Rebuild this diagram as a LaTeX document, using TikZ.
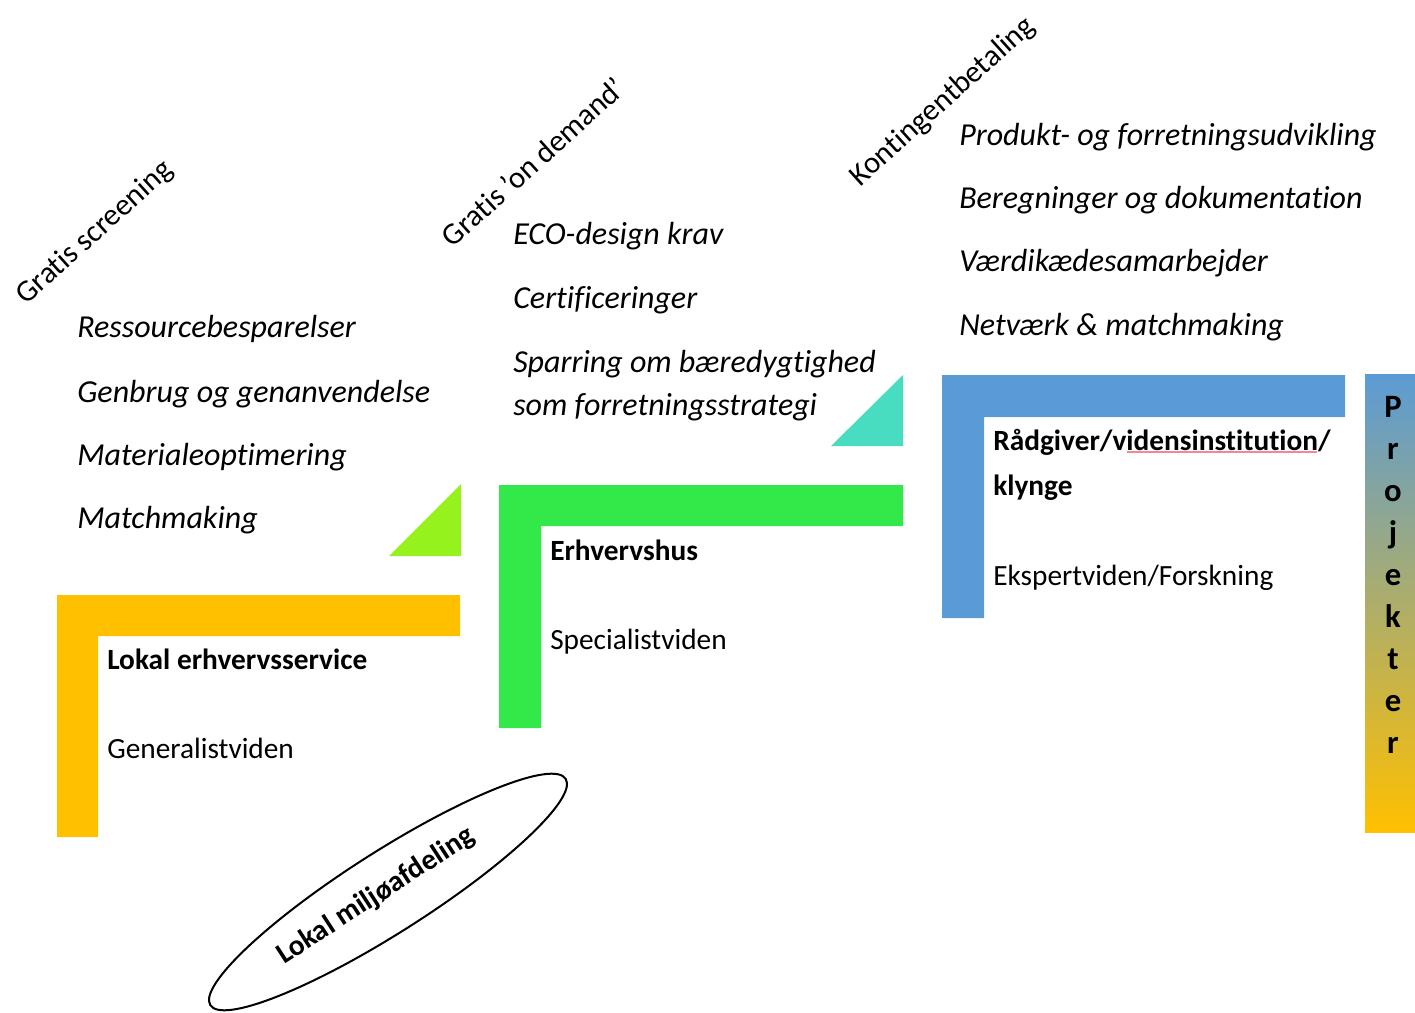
\documentclass[tikz,border=0pt]{standalone}
\usepackage{fontspec}
\setmainfont{Carlito}[Ligatures=NoCommon]
\usetikzlibrary{shapes.geometric}
\definecolor{cOrange}{HTML}{FFC000}
\definecolor{cGreen}{HTML}{33E94A}
\definecolor{cBlue}{HTML}{5B9BD5}
\definecolor{cLime}{HTML}{95F21D}
\definecolor{cTeal}{HTML}{48DCC0}
\definecolor{cMid}{HTML}{70AD47}
\definecolor{cSpell}{HTML}{F08A92}
\begin{document}
\begin{tikzpicture}[x=0.75pt,y=-0.75pt,
  item/.style={anchor=base west, font=\fontsize{24}{28}\selectfont\itshape, inner sep=0},
  head/.style={anchor=base west, font=\fontsize{22}{26}\selectfont\bfseries, inner sep=0},
  body/.style={anchor=base west, font=\fontsize{22}{26}\selectfont, inner sep=0},
  tier/.style={rotate=42, font=\fontsize{23}{27}\selectfont, inner sep=0},
  letter/.style={anchor=base, font=\fontsize{24.5}{28}\selectfont\bfseries, inner sep=0}]
\useasboundingbox (0,0) rectangle (1415,1013);

% L-shaped bands
\fill[cOrange] (57,595) -- (460,595) -- (460,636) -- (98,636) -- (98,837) -- (57,837) -- cycle;
\fill[cGreen] (499,485) -- (903,485) -- (903,526) -- (541,526) -- (541,728) -- (499,728) -- cycle;
\fill[cBlue] (942,375) -- (1345,375) -- (1345,417) -- (984,417) -- (984,618) -- (942,618) -- cycle;

% triangles
\fill[cLime] (389,556) -- (461,556) -- (461,484) -- cycle;
\fill[cTeal] (831,446) -- (903,446) -- (903,375) -- cycle;

% gradient bar
\shade[top color=cBlue, middle color=cMid, bottom color=cOrange] (1365,374) rectangle (1415,832);
\foreach \l [count=\i from 0] in {P,r,o,j,e,k,t,e,r}
  \node[letter] (proj\i) at (1393,{417+42*\i}) {\l};

% tier labels
\node[tier] (t1) at (95,233) {Gratis screening};
\node[tier] (t2) at (533,162) {Gratis ’on demand’};
\node[tier] (t3) at (943,102) {Kontingentbetaling};

% left list
\node[item] (a1) at (77,338) {Ressourcebesparelser};
\node[item] (a2) at (77,402) {Genbrug og genanvendelse};
\node[item] (a3) at (77,465) {Materialeoptimering};
\node[item] (a4) at (77,528) {Matchmaking};

% middle list
\node[item] (b1) at (513,245) {ECO-design krav};
\node[item] (b2) at (513,309) {Certificeringer};
\node[item] (b3) at (513,372) {Sparring om bæredygtighed};
\node[item] (b4) at (513,415) {som forretningsstrategi};

% right list
\node[item] (c1) at (959,146) {Produkt- og forretningsudvikling};
\node[item] (c2) at (959,209) {Beregninger og dokumentation};
\node[item] (c3) at (959,272) {Værdikædesamarbejder};
\node[item] (c4) at (959,335) {Netværk \& matchmaking};

% box texts
\node[head] (h1) at (107,669) {Lokal erhvervsservice};
\node[body] (g1) at (107,758) {Generalistviden};
\node[head] (h2) at (550,560) {Erhvervshus};
\node[body] (g2) at (550,649) {Specialistviden};
\node[head] (h3) at (993,450) {Rådgiver/vidensinstitution/};
\node[head] (h3b) at (993,495) {klynge};
\node[body] (g3) at (993,585) {Ekspertviden/Forskning};
\draw[cSpell, line width=0.9pt] (1127,452) -- (1317,452);

% ellipse
\node[draw, line width=1.5pt, ellipse, rotate=32.5, minimum width=316pt, minimum height=61pt, inner sep=0] (miljo) at (388,892) {};
\node[rotate=33, font=\fontsize{22}{26}\selectfont\bfseries, inner sep=0] (miljotxt) at (376,896) {Lokal miljøafdeling};
\end{tikzpicture}
\end{document}
